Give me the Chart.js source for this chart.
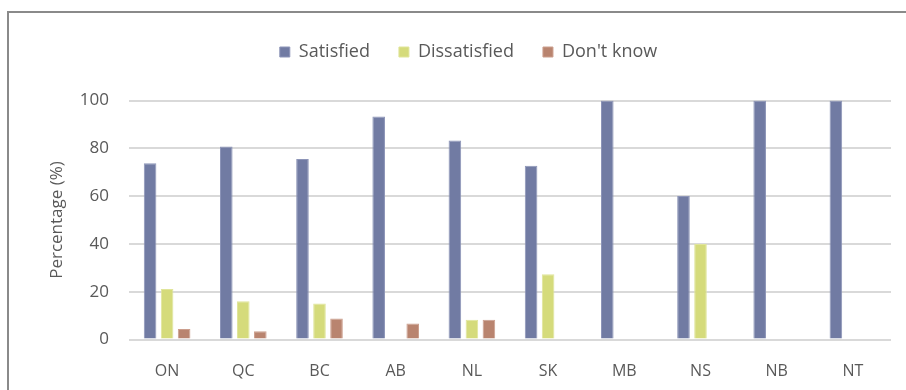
<!DOCTYPE html>
<html>
<head>
<meta charset="utf-8">
<script src="https://cdn.jsdelivr.net/npm/chart.js@4.4.1/dist/chart.umd.min.js"></script>
<style>
  html, body { margin: 0; padding: 0; background: #ffffff; }
  #wrap { position: relative; width: 906px; height: 390px; }
</style>
</head>
<body>
<div id="wrap"><canvas id="chart" width="906" height="390"></canvas></div>
<script>
// Provinces / territories
const provinces = ['ON', 'QC', 'BC', 'AB', 'NL', 'SK', 'MB', 'NS', 'NB', 'NT'];

// Share of respondents (%) for each answer
const satisfied    = [73.7, 80.8, 75.5, 93.3, 83.3, 72.7, 100, 60, 100, 100];
const dissatisfied = [21.1, 16.0, 15.1, 0, 8.3, 27.3, 0, 40, 0, 0];
const dontKnow     = [4.4, 3.5, 8.8, 6.7, 8.3, 0, 0, 0, 0, 0];

// Y axis ticks
const yTicks = [0, 20, 40, 60, 80, 100];

const FONT = "'Open Sans', 'Liberation Sans', sans-serif";
const TEXT = '#595959';

// Frame line along the top and left of the chart
const framePlugin = {
  id: 'frame',
  beforeDraw(chart) {
    const c = chart.ctx;
    c.save();
    c.strokeStyle = '#8a8a8a';
    c.lineWidth = 2;
    c.beginPath();
    c.moveTo(8, 400);
    c.lineTo(8, 12);
    c.lineTo(910, 12);
    c.stroke();
    c.restore();
  }
};

new Chart(document.getElementById('chart'), {
  type: 'bar',
  data: {
    labels: provinces,
    datasets: [
      { label: 'Satisfied', data: satisfied, backgroundColor: '#717ba3', borderColor: '#8d95b8', borderWidth: 1 },
      { label: 'Dissatisfied', data: dissatisfied, backgroundColor: '#d5db7b', borderColor: '#e0e59a', borderWidth: 1 },
      { label: "Don't know", data: dontKnow, backgroundColor: '#b9846f', borderColor: '#cc9f8e', borderWidth: 1 }
    ]
  },
  options: {
    responsive: false,
    animation: false,
    categoryPercentage: 0.67,
    barPercentage: 0.74,
    layout: { padding: { left: 46, right: 15, top: 14, bottom: 0 } },
    plugins: {
      legend: {
        position: 'top',
        weight: 3000,
        labels: {
          boxWidth: 10,
          boxHeight: 10,
          padding: 29,
          color: TEXT,
          font: { family: FONT, size: 18 }
        }
      },
      // empty spacer between the legend and the plot
      title: {
        display: true,
        text: '',
        position: 'top',
        weight: 2000,
        padding: { top: 0, bottom: 17.5 },
        font: { family: FONT, size: 10 }
      },
      tooltip: { enabled: false }
    },
    scales: {
      x: {
        grid: { display: false },
        border: { display: false },
        ticks: { color: TEXT, padding: 14, font: { family: FONT, size: 16 } },
        afterFit(scale) { scale.height = 50.5; }
      },
      y: {
        min: 0,
        max: 100,
        afterBuildTicks(scale) { scale.ticks = yTicks.map(v => ({ value: v })); },
        grid: { color: '#d9d9d9', lineWidth: 2, drawTicks: false },
        border: { display: false },
        ticks: { color: TEXT, padding: 20, font: { family: FONT, size: 17 } },
        title: {
          display: true,
          text: 'Percentage (%)',
          color: TEXT,
          padding: { top: 1, bottom: 0 },
          font: { family: FONT, size: 17 }
        },
        afterFit(scale) { scale.width = 83; }
      }
    }
  },
  plugins: [framePlugin]
});
</script>
</body>
</html>
